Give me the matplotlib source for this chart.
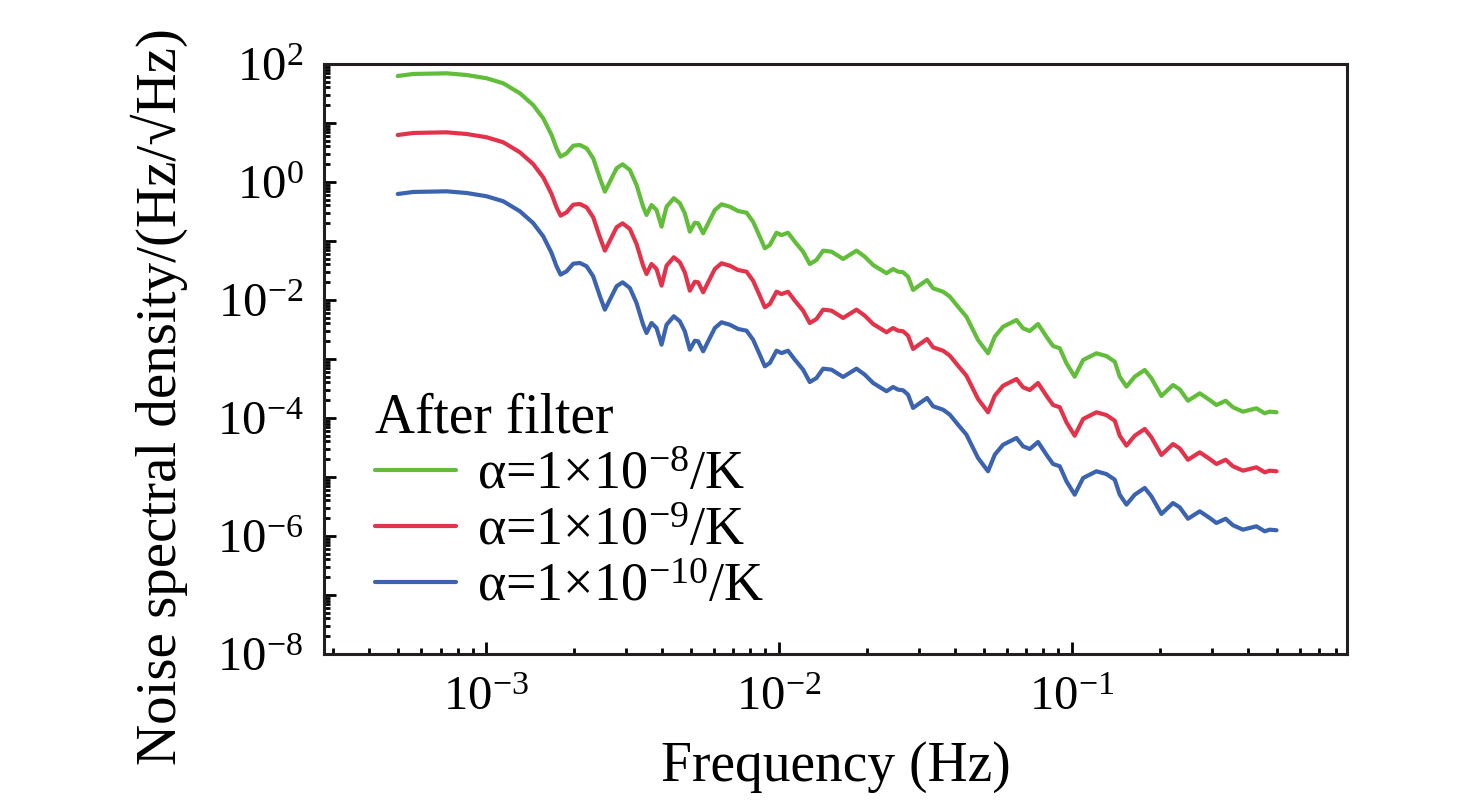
import matplotlib
matplotlib.use("Agg")
import matplotlib.pyplot as plt
from matplotlib.ticker import LogLocator, NullFormatter
import numpy as np

# frequency axis (Hz), shared by the three curves
freq = [
    5.0e-4, 5.65e-4, 7.34e-4, 8.59e-4, 1.005e-3, 1.146e-3, 1.306e-3, 1.449e-3,
    1.569e-3, 1.675e-3, 1.742e-3, 1.798e-3, 1.885e-3, 1.986e-3, 2.093e-3, 2.207e-3,
    2.324e-3, 2.450e-3, 2.547e-3, 2.649e-3, 2.793e-3, 2.928e-3, 3.100e-3, 3.267e-3,
    3.441e-3, 3.534e-3, 3.675e-3, 3.823e-3, 3.977e-3, 4.136e-3, 4.380e-3, 4.592e-3,
    4.776e-3, 4.967e-3, 5.166e-3, 5.303e-3, 5.515e-3, 5.736e-3, 6.046e-3, 6.372e-3,
    6.803e-3, 7.261e-3, 7.756e-3, 8.168e-3, 8.610e-3, 8.956e-3, 9.316e-3, 9.817e-3,
    1.021e-2, 1.075e-2, 1.134e-2, 1.210e-2, 1.275e-2, 1.344e-2, 1.416e-2, 1.513e-2,
    1.657e-2, 1.841e-2, 1.965e-2, 2.098e-2, 2.331e-2, 2.455e-2, 2.553e-2, 2.655e-2,
    2.761e-2, 2.872e-2, 3.027e-2, 3.206e-2, 3.361e-2, 3.637e-2, 3.833e-2, 4.090e-2,
    4.369e-2, 4.602e-2, 4.786e-2, 5.178e-2, 5.459e-2, 5.826e-2, 6.475e-2, 6.819e-2,
    7.188e-2, 7.670e-2, 8.193e-2, 8.629e-2, 9.099e-2, 9.590e-2, 0.1023, 0.1093,
    0.1214, 0.1313, 0.1402, 0.1458, 0.1537, 0.1640, 0.1774, 0.1870,
    0.2023, 0.2216, 0.2336, 0.2493, 0.2734, 0.2957, 0.3117, 0.3352,
    0.3550, 0.3841, 0.4269, 0.4556, 0.4739, 0.5,
]

# alpha = 1e-8 /K
psd_a8 = [
    62.6, 67.8, 69.5, 65.1, 57.3, 47.1, 31.9, 20.2,
    12.0, 6.27, 3.72, 2.69, 3.06, 4.12, 4.24, 3.72,
    2.52, 1.156, 0.686, 1.01, 1.71, 1.995, 1.60, 0.889,
    0.381, 0.276, 0.408, 0.335, 0.175, 0.381, 0.530, 0.436,
    0.294, 0.144, 0.204, 0.1995, 0.135, 0.1995, 0.335, 0.419,
    0.381, 0.322, 0.302, 0.212, 0.118, 0.0751, 0.0855, 0.138,
    0.126, 0.138, 0.0973, 0.0659, 0.0407, 0.0476, 0.0686, 0.0659,
    0.0496, 0.0686, 0.0542, 0.0392, 0.0284, 0.0335, 0.0302, 0.0295,
    0.0248, 0.0148, 0.0179, 0.0218, 0.0158, 0.0138, 0.0114, 7.69e-3,
    5.21e-3, 3.10e-3, 2.10e-3, 1.25e-3, 2.39e-3, 3.52e-3, 4.58e-3, 3.31e-3,
    2.98e-3, 3.92e-3, 2.39e-3, 1.66e-3, 1.52e-3, 8.45e-4, 5.01e-4, 9.61e-4,
    1.25e-3, 1.12e-3, 9.00e-4, 5.01e-4, 3.40e-4, 5.01e-4, 6.52e-4, 4.71e-4,
    2.36e-4, 3.62e-4, 3.06e-4, 1.96e-4, 2.62e-4, 2.02e-4, 1.66e-4, 1.96e-4,
    1.52e-4, 1.28e-4, 1.46e-4, 1.20e-4, 1.28e-4, 1.25e-4,
]

# alpha = 1e-9 /K
psd_a9 = [
    6.26, 6.78, 6.95, 6.51, 5.73, 4.71, 3.19, 2.02,
    1.20, 0.627, 0.372, 0.269, 0.306, 0.412, 0.424, 0.372,
    0.252, 0.1156, 0.0686, 0.101, 0.171, 0.1995, 0.160, 0.0889,
    0.0381, 0.0276, 0.0408, 0.0335, 0.0175, 0.0381, 0.0530, 0.0436,
    0.0294, 0.0144, 0.0204, 0.01995, 0.0135, 0.01995, 0.0335, 0.0419,
    0.0381, 0.0322, 0.0302, 0.0212, 0.0118, 7.51e-3, 8.55e-3, 0.0138,
    0.0126, 0.0138, 9.73e-3, 6.59e-3, 4.07e-3, 4.76e-3, 6.86e-3, 6.59e-3,
    4.96e-3, 6.86e-3, 5.42e-3, 3.92e-3, 2.84e-3, 3.35e-3, 3.02e-3, 2.95e-3,
    2.48e-3, 1.48e-3, 1.79e-3, 2.18e-3, 1.58e-3, 1.38e-3, 1.14e-3, 7.69e-4,
    5.21e-4, 3.10e-4, 2.10e-4, 1.25e-4, 2.39e-4, 3.52e-4, 4.58e-4, 3.31e-4,
    2.98e-4, 3.92e-4, 2.39e-4, 1.66e-4, 1.52e-4, 8.45e-5, 5.01e-5, 9.61e-5,
    1.25e-4, 1.12e-4, 9.00e-5, 5.01e-5, 3.40e-5, 5.01e-5, 6.52e-5, 4.71e-5,
    2.36e-5, 3.62e-5, 3.06e-5, 1.96e-5, 2.62e-5, 2.02e-5, 1.66e-5, 1.96e-5,
    1.52e-5, 1.28e-5, 1.46e-5, 1.20e-5, 1.28e-5, 1.25e-5,
]

# alpha = 1e-10 /K
psd_a10 = [
    0.626, 0.678, 0.695, 0.651, 0.573, 0.471, 0.319, 0.202,
    0.120, 0.0627, 0.0372, 0.0269, 0.0306, 0.0412, 0.0424, 0.0372,
    0.0252, 0.01156, 6.86e-3, 0.0101, 0.0171, 0.01995, 0.0160, 8.89e-3,
    3.81e-3, 2.76e-3, 4.08e-3, 3.35e-3, 1.75e-3, 3.81e-3, 5.30e-3, 4.36e-3,
    2.94e-3, 1.44e-3, 2.04e-3, 1.995e-3, 1.35e-3, 1.995e-3, 3.35e-3, 4.19e-3,
    3.81e-3, 3.22e-3, 3.02e-3, 2.12e-3, 1.18e-3, 7.51e-4, 8.55e-4, 1.38e-3,
    1.26e-3, 1.38e-3, 9.73e-4, 6.59e-4, 4.07e-4, 4.76e-4, 6.86e-4, 6.59e-4,
    4.96e-4, 6.86e-4, 5.42e-4, 3.92e-4, 2.84e-4, 3.35e-4, 3.02e-4, 2.95e-4,
    2.48e-4, 1.48e-4, 1.79e-4, 2.18e-4, 1.58e-4, 1.38e-4, 1.14e-4, 7.69e-5,
    5.21e-5, 3.10e-5, 2.10e-5, 1.25e-5, 2.39e-5, 3.52e-5, 4.58e-5, 3.31e-5,
    2.98e-5, 3.92e-5, 2.39e-5, 1.66e-5, 1.52e-5, 8.45e-6, 5.01e-6, 9.61e-6,
    1.25e-5, 1.12e-5, 9.00e-6, 5.01e-6, 3.40e-6, 5.01e-6, 6.52e-6, 4.71e-6,
    2.36e-6, 3.62e-6, 3.06e-6, 1.96e-6, 2.62e-6, 2.02e-6, 1.66e-6, 1.96e-6,
    1.52e-6, 1.28e-6, 1.46e-6, 1.20e-6, 1.28e-6, 1.25e-6,
]

labels = ["α=1×$10^{-8}$/K", "α=1×$10^{-9}$/K", "α=1×$10^{-10}$/K"]
colors = ["#62bd3a", "#e2334b", "#3c63b0"]
y_exponents = list(range(-8, 3))

plt.rcParams['font.family'] = ['Liberation Serif', 'DejaVu Serif']
plt.rcParams['mathtext.fontset'] = 'custom'
plt.rcParams['mathtext.rm'] = 'Liberation Serif'
plt.rcParams['mathtext.it'] = 'Liberation Serif:italic'
plt.rcParams['font.size'] = 35

fig = plt.figure(figsize=(14.76, 8.05), dpi=100)
ax = fig.add_axes([0.2195, 0.1876, 0.6931, 0.7329])

for psd, lab, col in zip([psd_a8, psd_a9, psd_a10], labels, colors):
    ax.plot(freq, psd, color=col, lw=3.0, label=lab,
            solid_joinstyle='round', solid_capstyle='round')

ax.set_xscale('log')
ax.set_yscale('log')
ax.set_xlim(2.8e-4, 0.87)
ax.set_ylim(1e-8, 1e2)

ax.set_xticks([1e-3, 1e-2, 1e-1])
ax.set_xticklabels([r'$10^{-3}$', r'$10^{-2}$', r'$10^{-1}$'])
ax.xaxis.set_minor_locator(LogLocator(base=10, subs=np.arange(2, 10), numticks=50))
ax.xaxis.set_minor_formatter(NullFormatter())

ax.set_yticks([10.0 ** e for e in y_exponents])
ax.set_yticklabels([r'$10^{%d}$' % e if e % 2 == 0 else '' for e in y_exponents])
ax.yaxis.set_minor_locator(LogLocator(base=10, subs=np.arange(2, 10), numticks=50))
ax.yaxis.set_minor_formatter(NullFormatter())

ax.tick_params(which='both', direction='in', top=False, right=False, width=2.0)
ax.tick_params(which='major', length=8.6)
ax.tick_params(which='minor', length=4.3)
ax.tick_params(axis='x', which='major', pad=16)
ax.tick_params(axis='y', which='major', pad=15)
for sp in ax.spines.values():
    sp.set_linewidth(2.2)
    sp.set_color('#231f20')

ax.set_xlabel('Frequency (Hz)', fontsize=40)
ax.set_ylabel('Noise spectral density/(Hz/√Hz)', fontsize=41)
ax.yaxis.set_label_coords(-0.133, 0.436)
ax.xaxis.set_label_coords(0.5, -0.148)

leg = ax.legend(loc='lower left', bbox_to_anchor=(0.05, 0.07), frameon=False,
                title='After filter', title_fontsize=40, fontsize=39,
                handlelength=1.5, handletextpad=0.38, labelspacing=0.1,
                borderpad=0, borderaxespad=0, alignment='left')

fig.savefig('out.png', dpi=100)
